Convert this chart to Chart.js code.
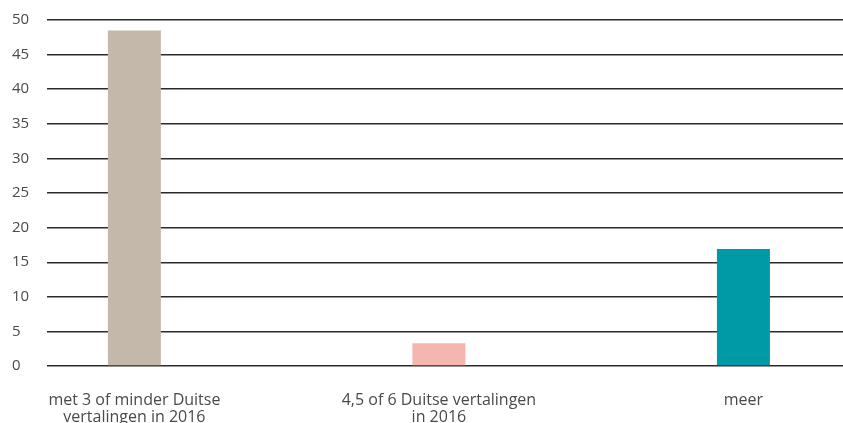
<!DOCTYPE html>
<html>
<head>
<meta charset="utf-8">
<script src="https://cdn.jsdelivr.net/npm/chart.js@4/dist/chart.umd.min.js"></script>
<style>
  html, body { margin: 0; padding: 0; background: #fff; }
  #wrap { width: 843px; height: 423px; }
</style>
</head>
<body>
<div id="wrap"><canvas id="vertalingenChart"></canvas></div>
<script>
var categories = [
    ['met 3 of minder Duitse', 'vertalingen in 2016'],
    ['4,5 of 6 Duitse vertalingen', 'in 2016'],
    'meer'
];
var values = [48.5, 3.3, 16.9];
var barColors = ['#c4b8aa', '#f5b6af', '#009aa6'];
var yTicks = [0, 5, 10, 15, 20, 25, 30, 35, 40, 45, 50];

var points = values.map(function (v, i) { return { x: i, y: v }; });

var ctx = document.getElementById('vertalingenChart').getContext('2d');
var chart = new Chart(ctx, {
    type: 'bar',
    data: {
        datasets: [{
            data: points,
            backgroundColor: barColors,
            barPercentage: 0.174,
            categoryPercentage: 1
        }]
    },
    options: {
        responsive: true,
        maintainAspectRatio: false,
        animation: false,
        layout: { padding: { left: 12, top: 20, right: 0, bottom: 0 } },
        plugins: { legend: { display: false }, tooltip: { enabled: false } },
        scales: {
            x: {
                type: 'linear',
                offset: false,
                min: -0.287,
                max: 2.327,
                grid: { display: false },
                border: { display: false },
                afterBuildTicks: function (axis) {
                    axis.ticks = categories.map(function (c, i) { return { value: i }; });
                },
                afterFit: function (axis) { axis.height = 57; },
                ticks: {
                    autoSkip: false,
                    maxRotation: 0,
                    padding: 18,
                    color: '#4a4a4a',
                    font: { family: 'Open Sans', size: 16, lineHeight: 1.05 },
                    callback: function (v) { return categories[v]; }
                }
            },
            y: {
                min: 0,
                max: 50,
                afterBuildTicks: function (axis) {
                    axis.ticks = yTicks.map(function (t) { return { value: t }; });
                },
                afterFit: function (axis) { axis.width = 35; },
                border: { display: false },
                grid: { color: '#2a2a2a', lineWidth: 1.4, drawTicks: false },
                ticks: {
                    crossAlign: 'far',
                    padding: 0,
                    color: '#4a4a4a',
                    font: { family: 'Open Sans', size: 15 }
                }
            }
        }
    }
});
</script>
</body>
</html>
